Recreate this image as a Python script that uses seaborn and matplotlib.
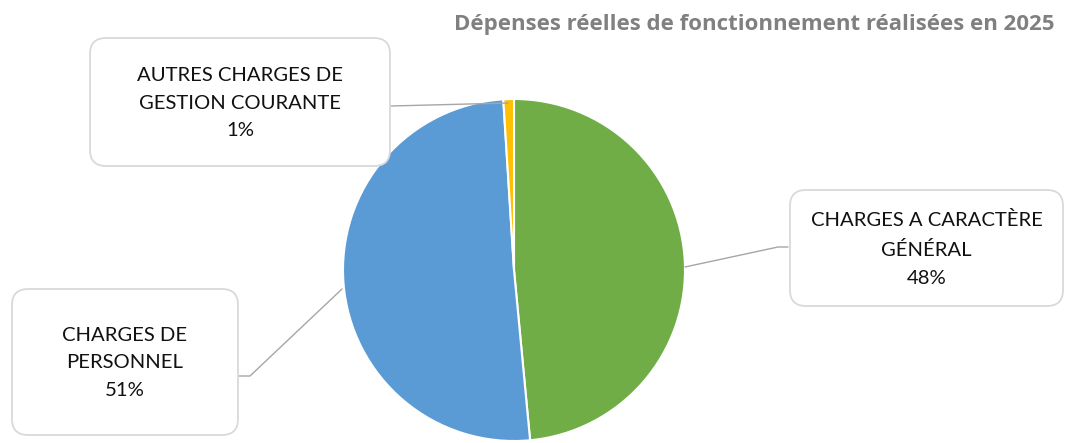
import matplotlib
matplotlib.use("Agg")
import matplotlib.pyplot as plt
import seaborn as sns
from matplotlib.patches import FancyBboxPatch

# ---- data ----
categories = ["CHARGES A CARACTÈRE\nGÉNÉRAL", "CHARGES DE\nPERSONNEL", "AUTRES CHARGES DE\nGESTION COURANTE"]
values = [48.5, 50.5, 1.0]          # slice sizes
pct_labels = ["48%", "51%", "1%"]   # percentages printed in the labels
title = "Dépenses réelles de fonctionnement réalisées en 2025"

colors = ["#70AD47", "#5B9BD5", "#FFC000"]

sns.set_theme(style="white")
plt.rcParams["font.family"] = ["Lato", "DejaVu Sans"]

W, H = 1065, 443
fig = plt.figure(figsize=(W / 100, H / 100), dpi=100)
ax = fig.add_axes([0, 0, 1, 1])

cx, cy, r = 514, H - 270, 171
ax.pie(values, colors=colors, startangle=90, counterclock=False,
       center=(cx, cy), radius=r,
       wedgeprops=dict(edgecolor="white", linewidth=1.5))
ax.set_xlim(0, W)
ax.set_ylim(0, H)
ax.set_aspect("equal")
ax.axis("off")

def Y(y):
    return H - y

# label boxes: (x0, y0, x1, y1) in pixels (top-left origin)
boxes = [
    (790, 190, 1063, 306),   # général
    (12, 289, 238, 435),     # personnel
    (90, 38, 390, 166),      # autres
]
leaders = [
    [(788, 247), (778, 247), (685, 267)],
    [(239, 376), (250, 376), (342, 289)],
    [(391, 106), (508, 103)],
]
for (x0, y0, x1, y1), cat, pct, pts in zip(boxes, categories, pct_labels, leaders):
    box = FancyBboxPatch((x0 + 12, Y(y1) + 12), (x1 - x0) - 24, (y1 - y0) - 24,
                         boxstyle="round,pad=12,rounding_size=16",
                         facecolor="white", edgecolor="#D9D9D9", linewidth=1.3,
                         zorder=3)
    ax.add_patch(box)
    ax.text((x0 + x1) / 2, Y((y0 + y1) / 2 + 1), cat + "\n" + pct,
            ha="center", va="center", fontsize=14.6, color="#111111",
            linespacing=1.78, zorder=4)
    xs = [p[0] for p in pts]
    ys = [Y(p[1]) for p in pts]
    ax.plot(xs, ys, color="#A6A6A6", linewidth=1.0, zorder=2)

ax.text(1055, Y(24), title, ha="right", va="center", fontsize=16,
        fontweight="bold", color="#808080", family=["Open Sans", "DejaVu Sans"])

fig.savefig("out.png", dpi=100)
